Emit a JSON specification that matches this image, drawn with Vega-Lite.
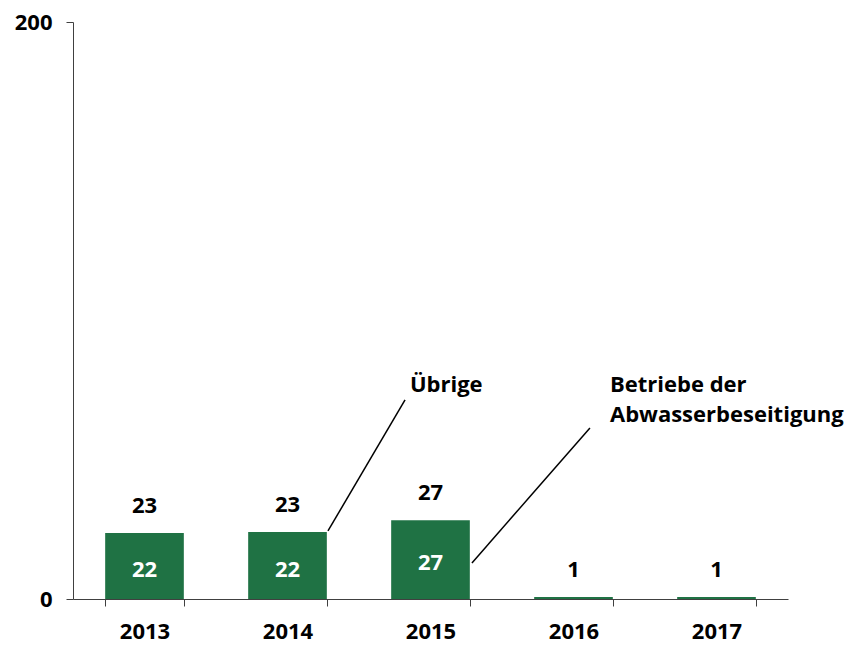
{
  "$schema": "https://vega.github.io/schema/vega-lite/v6.json",
  "width": 715,
  "height": 577,
  "autosize": "none",
  "padding": {"left": 73, "top": 22, "right": 58, "bottom": 46},
  "background": "white",
  "config": {
    "view": {"stroke": null},
    "font": "Open Sans",
    "text": {"font": "Open Sans", "fontWeight": "bold", "fontSize": 22, "lineBreak": "\n"}
  },
  "datasets": {
    "bars": [
      {"year": "2013", "abw": 22, "total": 22.9},
      {"year": "2014", "abw": 22, "total": 23.2},
      {"year": "2015", "abw": 27, "total": 27.3},
      {"year": "2016", "abw": null, "total": 0.7},
      {"year": "2017", "abw": null, "total": 0.7}
    ],
    "leaders": [
      {"series": "Übrige", "x1": 1.783, "y1": 23.6, "x2": 2.322, "y2": 69.0},
      {"series": "Betriebe der Abwasserbeseitigung", "x1": 2.79, "y1": 12.5, "x2": 3.615, "y2": 59.3}
    ],
    "notes": [
      {"label": "Übrige", "x": 2.61, "y": 71.8, "anchor": "center"},
      {"label": "Betriebe der\nAbwasserbeseitigung", "x": 3.755, "y": 71.8, "anchor": "left"}
    ]
  },
  "layer": [
    {
      "data": {"name": "bars"},
      "layer": [
        {
          "mark": {"type": "bar", "color": "#1f7244"},
          "encoding": {
            "x": {
              "field": "year", "type": "nominal",
              "scale": {"paddingInner": 0.45, "paddingOuter": 0.225},
              "axis": {
                "title": null, "labelAngle": 0, "labelFont": "Open Sans", "labelFontWeight": "bold",
                "labelFontSize": 22, "labelColor": "black", "domainColor": "#404040", "tickColor": "#404040",
                "tickBand": "extent", "tickSize": 7, "labelPadding": 25, "labelBaseline": "middle"
              }
            },
            "y": {
              "field": "total", "type": "quantitative",
              "scale": {"domain": [0, 200], "nice": false},
              "axis": {
                "title": null, "values": [0, 200], "grid": false, "labelFont": "Open Sans",
                "labelFontWeight": "bold", "labelFontSize": 22, "labelColor": "black",
                "domainColor": "#404040", "tickColor": "#404040", "tickSize": 7, "labelPadding": 14
              }
            }
          }
        },
        {
          "mark": {"type": "text", "color": "black", "dy": -27, "baseline": "middle"},
          "encoding": {
            "x": {"field": "year", "type": "nominal"},
            "y": {"field": "total", "type": "quantitative"},
            "text": {"field": "total", "type": "quantitative", "format": ".0f"}
          }
        },
        {
          "transform": [{"filter": "datum.abw != null"}, {"calculate": "datum.abw / 2", "as": "mid"}],
          "mark": {"type": "text", "color": "white", "baseline": "middle", "dy": 3},
          "encoding": {
            "x": {"field": "year", "type": "nominal"},
            "y": {"field": "mid", "type": "quantitative"},
            "text": {"field": "abw", "type": "quantitative", "format": ".0f"}
          }
        }
      ]
    },
    {
      "data": {"name": "leaders"},
      "mark": {"type": "rule", "color": "black", "strokeWidth": 1.5},
      "encoding": {
        "x": {"field": "x1", "type": "quantitative", "scale": {"domain": [0, 5], "nice": false, "zero": false}, "axis": null},
        "x2": {"field": "x2"},
        "y": {"field": "y1", "type": "quantitative"},
        "y2": {"field": "y2"}
      }
    },
    {
      "data": {"name": "notes"},
      "layer": [
        {
          "transform": [{"filter": "datum.anchor == 'center'"}],
          "mark": {"type": "text", "color": "black", "align": "center", "baseline": "alphabetic"},
          "encoding": {
            "x": {"field": "x", "type": "quantitative", "scale": {"domain": [0, 5], "nice": false, "zero": false}, "axis": null},
            "y": {"field": "y", "type": "quantitative"},
            "text": {"field": "label"}
          }
        },
        {
          "transform": [{"filter": "datum.anchor == 'left'"}],
          "mark": {"type": "text", "color": "black", "align": "left", "baseline": "alphabetic", "lineHeight": 30},
          "encoding": {
            "x": {"field": "x", "type": "quantitative", "scale": {"domain": [0, 5], "nice": false, "zero": false}, "axis": null},
            "y": {"field": "y", "type": "quantitative"},
            "text": {"field": "label"}
          }
        }
      ]
    }
  ],
  "resolve": {"scale": {"x": "independent"}}
}
